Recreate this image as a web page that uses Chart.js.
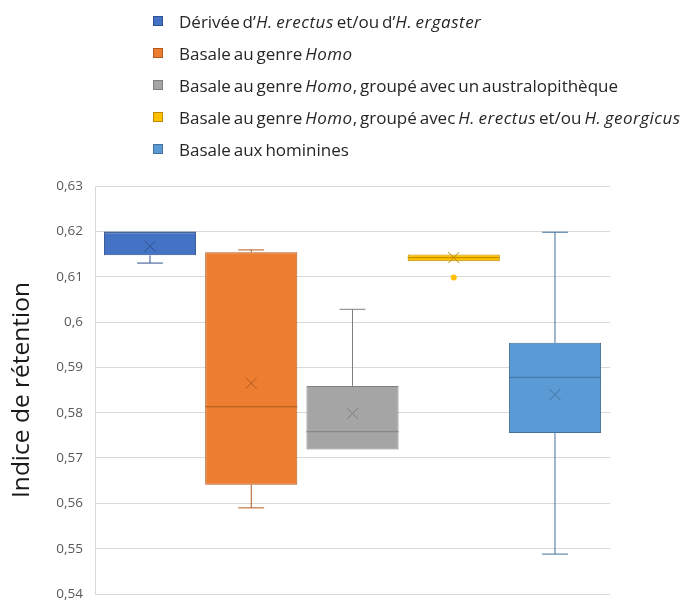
<!DOCTYPE html>
<html>
<head>
<meta charset="utf-8">
<script src="https://cdn.jsdelivr.net/npm/chart.js@4.4.1/dist/chart.umd.min.js"></script>
<style>
    html, body { margin: 0; padding: 0; background: #fff; }
    #wrap { position: relative; width: 686px; height: 604px; }
    #legend { position: absolute; left: 153px; top: 5px; font-family: "Open Sans", sans-serif; font-size: 17px; word-spacing: -1.5px; color: #262626; }
    #legend .row { height: 32px; display: flex; align-items: center; white-space: nowrap; }
    #legend .box { width: 8px; height: 8px; margin-right: 16px; border: 1px solid; flex: none; }
    #legend i { letter-spacing: 0.5px; }
</style>
</head>
<body>
<div id="wrap">
    <canvas id="chart" width="686" height="604"></canvas>
    <div id="legend"></div>
</div>
<script>
// Categories (legend entries)
const categories = [
    'Dérivée d’H. erectus et/ou d’H. ergaster',
    'Basale au genre Homo',
    'Basale au genre Homo, groupé avec un australopithèque',
    'Basale au genre Homo, groupé avec H. erectus et/ou H. georgicus',
    'Basale aux hominines'
];
const italicTerms = ['H. erectus', 'H. ergaster', 'H. georgicus', 'Homo'];

// Box plot statistics, one entry per category
const mins     = [0.6130, 0.5590, 0.5719, 0.6134, 0.5488];
const q1       = [0.6147, 0.5641, 0.5719, 0.6134, 0.5755];
const medians  = [0.6198, 0.5813, 0.5758, 0.6142, 0.5878];
const q3       = [0.6198, 0.6154, 0.5859, 0.6149, 0.5954];
const maxs     = [0.6198, 0.6159, 0.6028, 0.6149, 0.6198];
const means    = [0.6167, 0.5865, 0.5798, 0.6142, 0.5840];
const outliers = [[], [], [], [0.6098], []];

// Axis
const yMin = 0.54;
const yMax = 0.63;
const yStep = 0.01;
const yTitle = 'Indice de rétention';

const fills   = ['#4472C4', '#ED7D31', '#A5A5A5', '#FFC000', '#5B9BD5'];
const strokes = ['#2F528F', '#AE5A21', '#7F7F7F', '#BC8C00', '#41719C'];

// Build the HTML legend (keeps the italic species names)
function buildLegend() {
    const legend = document.getElementById('legend');
    categories.forEach((cat, i) => {
        let html = cat;
        italicTerms.forEach(term => {
            html = html.split(term).join('<i>' + term + '</i>');
        });
        const row = document.createElement('div');
        row.className = 'row';
        row.innerHTML = `<span class="box" style="background:${fills[i]};border-color:${strokes[i]}"></span><span>${html}</span>`;
        legend.appendChild(row);
    });
}

// Whiskers, medians, means and outliers drawn on top of the floating bars
const boxPlotPlugin = {
    id: 'boxPlot',
    afterDatasetsDraw(chart) {
        const ctx = chart.ctx;
        const y = chart.scales.y;
        ctx.save();
        chart.data.datasets.forEach((ds, i) => {
            const bar = chart.getDatasetMeta(i).data[0];
            if (!bar) return;
            const cx = bar.x;
            const half = bar.width / 2;
            const cap = bar.width * 0.14;
            ctx.strokeStyle = strokes[i];
            ctx.lineWidth = 1;

            // whiskers
            ctx.beginPath();
            if (maxs[i] > q3[i]) {
                ctx.moveTo(cx, y.getPixelForValue(q3[i]));
                ctx.lineTo(cx, y.getPixelForValue(maxs[i]));
                ctx.moveTo(cx - cap, y.getPixelForValue(maxs[i]));
                ctx.lineTo(cx + cap, y.getPixelForValue(maxs[i]));
            }
            if (mins[i] < q1[i]) {
                ctx.moveTo(cx, y.getPixelForValue(q1[i]));
                ctx.lineTo(cx, y.getPixelForValue(mins[i]));
                ctx.moveTo(cx - cap, y.getPixelForValue(mins[i]));
                ctx.lineTo(cx + cap, y.getPixelForValue(mins[i]));
            }
            // median
            const my = y.getPixelForValue(medians[i]);
            ctx.moveTo(cx - half, my);
            ctx.lineTo(cx + half, my);
            ctx.stroke();

            // mean (x marker)
            const ay = y.getPixelForValue(means[i]);
            const s = 5.5;
            ctx.beginPath();
            ctx.moveTo(cx - s, ay - s);
            ctx.lineTo(cx + s, ay + s);
            ctx.moveTo(cx + s, ay - s);
            ctx.lineTo(cx - s, ay + s);
            ctx.stroke();

            // outliers
            outliers[i].forEach(v => {
                ctx.beginPath();
                ctx.fillStyle = fills[i];
                ctx.arc(cx, y.getPixelForValue(v), 3, 0, Math.PI * 2);
                ctx.fill();
            });
        });
        ctx.restore();
    }
};

function formatTick(value) {
    return Number(value.toFixed(2)).toString().replace('.', ',');
}

function createChart() {
    const ctx = document.getElementById('chart').getContext('2d');
    new Chart(ctx, {
        type: 'bar',
        data: {
            labels: [''],
            datasets: categories.map((cat, i) => ({
                label: cat,
                data: [[q1[i], q3[i]]],
                backgroundColor: fills[i],
                borderColor: strokes[i],
                borderWidth: 1,
                borderSkipped: false
            }))
        },
        options: {
            responsive: false,
            animation: false,
            events: [],
            layout: {
                padding: { top: 186, bottom: 10, left: 0, right: 76 }
            },
            plugins: {
                legend: { display: false },
                tooltip: { enabled: false }
            },
            datasets: {
                bar: {
                    categoryPercentage: 0.983,
                    barPercentage: 0.91
                }
            },
            scales: {
                x: {
                    display: false
                },
                y: {
                    min: yMin,
                    max: yMax,
                    afterFit(scale) {
                        scale.width = 95;
                        scale.paddingTop = 0;
                        scale.paddingBottom = 0;
                    },
                    ticks: {
                        stepSize: yStep,
                        padding: 12,
                        color: '#595959',
                        font: { family: 'Open Sans', size: 13.5 },
                        callback: formatTick
                    },
                    grid: {
                        color: '#d9d9d9',
                        drawTicks: false
                    },
                    border: {
                        display: true,
                        color: '#d9d9d9'
                    },
                    title: {
                        display: true,
                        text: yTitle,
                        color: '#1a1a1a',
                        font: { family: 'Open Sans', size: 24.5 },
                        padding: { top: 7, bottom: 0 }
                    }
                }
            }
        },
        plugins: [boxPlotPlugin]
    });
}

buildLegend();
createChart();
</script>
</body>
</html>
